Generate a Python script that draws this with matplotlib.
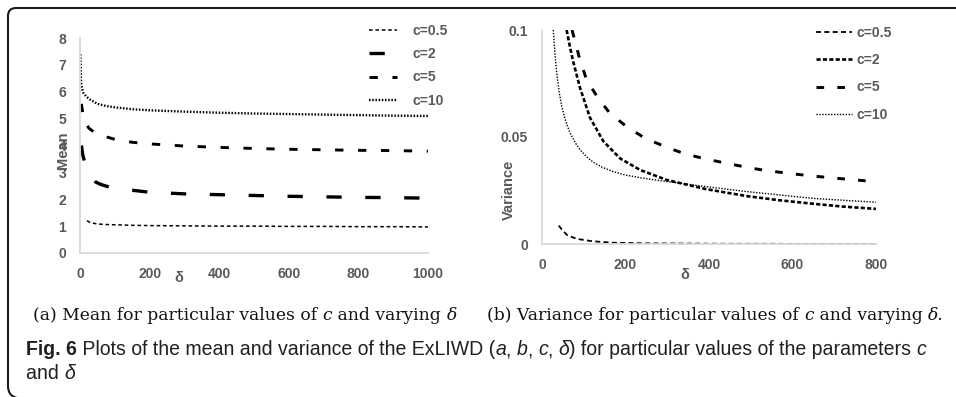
import matplotlib
matplotlib.use("Agg")
import matplotlib.pyplot as plt
from matplotlib.path import Path
from matplotlib.patches import PathPatch

plt.rcParams["lines.scale_dashes"] = False

# ---- Panel (a): mean vs delta ----
mean_c05_x = [20, 30, 50, 75, 100, 150, 200, 300, 400, 500, 600, 700, 800, 900, 1000]
mean_c05_y = [1.2, 1.13, 1.08, 1.06, 1.05, 1.03, 1.02, 1.01, 1.0, 1.0, 0.99, 0.99, 0.98, 0.98, 0.97]

mean_c2_x = [4, 8, 14, 20, 30, 45, 60, 85, 120, 160, 200, 300, 400, 500, 600, 700, 800, 900, 1000]
mean_c2_y = [4.0, 3.65, 3.35, 3.1, 2.85, 2.64, 2.55, 2.45, 2.38, 2.32, 2.26, 2.2, 2.17, 2.14, 2.11, 2.09, 2.07, 2.06, 2.04]

mean_c5_x = [4, 8, 15, 25, 40, 60, 100, 150, 200, 300, 400, 500, 600, 700, 800, 900, 1000]
mean_c5_y = [5.55, 5.2, 4.9, 4.65, 4.5, 4.38, 4.23, 4.12, 4.06, 3.98, 3.93, 3.89, 3.86, 3.84, 3.82, 3.81, 3.79]

mean_c10_x = [1, 2, 3, 5, 10, 20, 30, 50, 75, 100, 150, 200, 300, 400, 500, 600, 700, 800, 900, 1000]
mean_c10_y = [7.4, 6.9, 6.4, 6.15, 5.95, 5.8, 5.7, 5.55, 5.47, 5.42, 5.35, 5.31, 5.26, 5.22, 5.19, 5.17, 5.15, 5.13, 5.11, 5.1]

mean_xticks = [0, 200, 400, 600, 800, 1000]
mean_yticks = [0, 1, 2, 3, 4, 5, 6, 7, 8]

# ---- Panel (b): variance vs delta ----
var_c05_x = [40, 50, 60, 75, 90, 120, 170, 250, 350, 450, 550, 650, 800]
var_c05_y = [0.0086, 0.0062, 0.0042, 0.003, 0.0022, 0.0013, 0.0006, 0.0003, 0.0002, 0.0001, 0.0001, 0.0, 0.0]

var_c2_x = [59, 67, 75, 91, 115, 147, 187, 235, 299, 394, 490, 570, 650, 720, 800]
var_c2_y = [0.1, 0.092, 0.085, 0.073, 0.059, 0.048, 0.04, 0.0346, 0.0299, 0.0256, 0.0224, 0.0204, 0.0188, 0.0175, 0.0164]

var_c5_x = [72, 80, 91, 107, 135, 163, 203, 247, 295, 338, 386, 442, 500, 538, 600, 642, 700, 800]
var_c5_y = [0.1, 0.094, 0.086, 0.0766, 0.068, 0.061, 0.0548, 0.0494, 0.0455, 0.0424, 0.04, 0.0377, 0.0355, 0.0343, 0.0328, 0.0319, 0.0308, 0.0291]

var_c10_x = [27, 31, 35, 41, 47, 57, 67, 80, 91, 107, 123, 145, 171, 200, 235, 275, 315, 394, 490, 650, 800]
var_c10_y = [0.1, 0.089, 0.0805, 0.0712, 0.0645, 0.0572, 0.052, 0.0472, 0.0441, 0.0407, 0.0382, 0.0358, 0.0338, 0.0322, 0.031, 0.0298, 0.0288, 0.0268, 0.0245, 0.0213, 0.0195]

var_xticks = [0, 200, 400, 600, 800]
var_yticks = [0, 0.05, 0.1]
var_yticklabels = ["0", "0.05", "0.1"]

series_labels = ["c=0.5", "c=2", "c=5", "c=10"]

GRAY = "#595959"
SPINE = "#d9d9d9"
TICKFONT = dict(family="Liberation Sans", weight="bold", size=10, color=GRAY)
LABELFONT = dict(family="Liberation Sans", weight="bold", size=10.5, color=GRAY)

W, H = 956, 397
fig = plt.figure(figsize=(W / 100, H / 100), dpi=100)


def px_axes(x0, x1, y_top, y_bot):
    return fig.add_axes([x0 / W, 1 - y_bot / H, (x1 - x0) / W, (y_bot - y_top) / H])


def style_axes(ax):
    for s in ("top", "right"):
        ax.spines[s].set_visible(False)
    for s in ("left", "bottom"):
        ax.spines[s].set_color(SPINE)
        ax.spines[s].set_linewidth(1.3)
    ax.tick_params(length=0, pad=10)
    for lab in ax.get_xticklabels() + ax.get_yticklabels():
        lab.set(**TICKFONT)


# Panel (a)
axA = px_axes(80, 428, 38, 253)
axA.plot(mean_c05_x, mean_c05_y, color="black", lw=1.1, ls=(0, (2.6, 2.0)), label=series_labels[0])
axA.plot(mean_c2_x, mean_c2_y, color="black", lw=2.4, ls=(0, (11, 17)), label=series_labels[1])
axA.plot(mean_c5_x, mean_c5_y, color="black", lw=2.1, ls=(0, (6, 10.5)), label=series_labels[2])
axA.plot(mean_c10_x, mean_c10_y, color="black", lw=1.7, ls=(0, (1.1, 1.2)), label=series_labels[3])
axA.set_xlim(0, 1000)
axA.set_ylim(0, 8)
axA.set_xticks(mean_xticks)
axA.set_yticks(mean_yticks)
style_axes(axA)
axA.text(0.284, -0.116, "δ", transform=axA.transAxes, ha="center", va="center", **LABELFONT)
axA.text(-0.049, 0.479, "Mean", transform=axA.transAxes, ha="center", va="center",
         rotation=90, **LABELFONT)
legA = axA.legend(loc="upper left", bbox_to_anchor=(369 / W, 1 - 24 / H),
                  bbox_transform=fig.transFigure, frameon=False,
                  handlelength=2.0, handletextpad=1.1, labelspacing=0.665,
                  borderpad=0, borderaxespad=0,
                  prop=dict(family="Liberation Sans", weight="bold", size=10))
for t in legA.get_texts():
    t.set_color(GRAY)

# Panel (b)
axB = px_axes(542, 876, 30, 244)
axB.plot(var_c05_x, var_c05_y, color="black", lw=1.3, ls=(0, (3.6, 2.4)), label=series_labels[0])
axB.plot(var_c2_x, var_c2_y, color="black", lw=1.9, ls=(0, (3.0, 1.6)), label=series_labels[1])
axB.plot(var_c5_x, var_c5_y, color="black", lw=2.1, ls=(0, (5.5, 9.5)), label=series_labels[2])
axB.plot(var_c10_x, var_c10_y, color="black", lw=1.0, ls=(0, (1.0, 1.1)), label=series_labels[3])
axB.set_xlim(0, 800)
axB.set_ylim(0, 0.1)
axB.set_xticks(var_xticks)
axB.set_yticks(var_yticks)
axB.set_yticklabels(var_yticklabels)
style_axes(axB)
axB.text(0.428, -0.145, "δ", transform=axB.transAxes, ha="center", va="center", **LABELFONT)
axB.text(-0.099, 0.252, "Variance", transform=axB.transAxes, ha="center", va="center",
         rotation=90, **LABELFONT)
legB = axB.legend(loc="upper left", bbox_to_anchor=(816 / W, 1 - 26 / H),
                  bbox_transform=fig.transFigure, frameon=False,
                  handlelength=2.6, handletextpad=0.35, labelspacing=0.95,
                  borderpad=0, borderaxespad=0,
                  prop=dict(family="Liberation Sans", weight="bold", size=10))
for t in legB.get_texts():
    t.set_color(GRAY)

# Rounded page frame (top and left edges)
frame = fig.add_axes([0, 0, 1, 1], zorder=-5)
frame.set_xlim(0, W)
frame.set_ylim(H, 0)
frame.axis("off")
verts = [(W + 2, 8), (16, 8), (8, 8), (8, 16), (8, 386), (8, 396), (17, 398)]
codes = [Path.MOVETO, Path.LINETO, Path.CURVE3, Path.CURVE3, Path.LINETO, Path.CURVE3, Path.CURVE3]
frame.add_patch(PathPatch(Path(verts, codes), fill=False, lw=1.5, edgecolor="#1a1a1a"))

# Captions built from runs of differently styled text
renderer = fig.canvas.get_renderer()


def put_runs(x, y, runs):
    for text, style in runs:
        t = fig.text(x / W, 1 - y / H, text, ha="left", va="baseline", **style)
        bb = t.get_window_extent(renderer=renderer)
        x += bb.width


SERIF = dict(family="DejaVu Serif", size=12.3, color="#111111")
SERIF_I = dict(SERIF, style="italic")
put_runs(33, 320, [("(a) Mean for particular values of ", SERIF), ("c", SERIF_I),
                   (" and varying ", SERIF), ("δ", SERIF_I)])
put_runs(487, 320, [("(b) Variance for particular values of ", SERIF), ("c", SERIF_I),
                    (" and varying ", SERIF), ("δ.", SERIF_I)])

SANS = dict(family="Liberation Sans", size=14.05, color="#231f20")
SANS_B = dict(SANS, weight="bold")
SANS_I = dict(SANS, style="italic")
put_runs(26, 355, [("Fig. 6", SANS_B), (" Plots of the mean and variance of the ExLIWD (", SANS),
                   ("a", SANS_I), (", ", SANS), ("b", SANS_I), (", ", SANS), ("c", SANS_I),
                   (", ", SANS), ("δ", SANS_I), (") for particular values of the parameters ", SANS),
                   ("c", SANS_I)])
put_runs(26, 379, [("and ", SANS), ("δ", SANS_I)])

fig.savefig("out.png", dpi=100)
